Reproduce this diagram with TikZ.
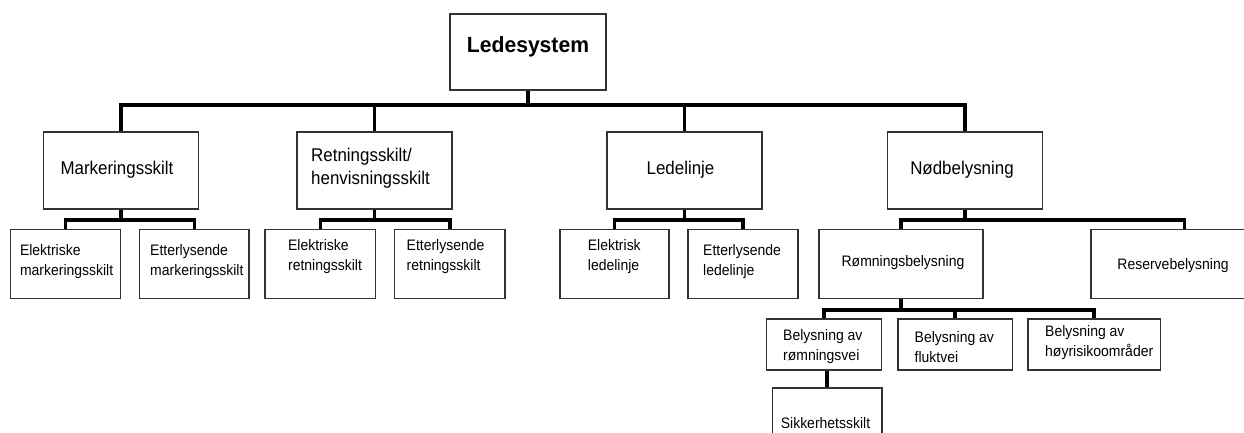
\documentclass[tikz,border=0pt]{standalone}
\usepackage{fontspec}
\setmainfont{Liberation Sans}[FakeStretch=0.92]
\newfontfamily\headfont{Liberation Sans}[FakeStretch=0.96]
\begin{document}
\begin{tikzpicture}[x=1pt,y=-1pt,
  box/.style={draw=black!80,line width=1.4pt,inner sep=0pt,rectangle},
  bus/.style={line width=3.6pt,line cap=butt,line join=miter},
  t0/.style={inner sep=0pt,font=\headfont\fontsize{22}{26}\selectfont\bfseries},
  t1/.style={inner sep=0pt,font=\fontsize{18.4}{23}\selectfont,align=left},
  t2/.style={inner sep=0pt,font=\fontsize{15.2}{20}\selectfont,align=left},
]
\useasboundingbox (0,0) rectangle (1244,432);
\fill[white] (0,0) rectangle (1244,432);

% boxes
\node[box,minimum width=156pt,minimum height=76pt] (top) at (528,52) {};
\node[box,minimum width=155pt,minimum height=77pt] (m1) at (121.25,170.5) {};
\node[box,minimum width=155pt,minimum height=77pt] (m2) at (374.3,170.5) {};
\node[box,minimum width=155pt,minimum height=77pt] (m3) at (684.5,170.5) {};
\node[box,minimum width=155pt,minimum height=77pt] (m4) at (965,170.5) {};

\node[box,minimum width=109.5pt,minimum height=69pt] (e1) at (65.45,263.8) {};
\node[box,minimum width=109.4pt,minimum height=69pt] (e2) at (194.3,263.8) {};
\node[box,minimum width=110.6pt,minimum height=69pt] (e3) at (320.3,263.8) {};
\node[box,minimum width=110.4pt,minimum height=69pt] (e4) at (449.8,263.8) {};
\node[box,minimum width=109pt,minimum height=69pt] (e5) at (614.5,263.8) {};
\node[box,minimum width=110pt,minimum height=69pt] (e6) at (743,263.8) {};
\node[box,minimum width=164pt,minimum height=69pt] (r1) at (901,263.8) {};
\node[box,minimum width=187pt,minimum height=69pt] (r2) at (1184.3,263.8) {};

\node[box,minimum width=115pt,minimum height=51pt] (b1) at (823.9,344.5) {};
\node[box,minimum width=114.6pt,minimum height=51pt] (b2) at (955.1,344.5) {};
\node[box,minimum width=132.5pt,minimum height=51pt] (b3) at (1094.15,344.5) {};
\node[box,minimum width=109.4pt,minimum height=70pt] (s1) at (827.1,423) {};

% bus levels
\coordinate (y1) at (0,105);
\coordinate (y2) at (0,220);
\coordinate (y3) at (0,310);

% connectors
\draw[bus] (top.south) -- (top.south |- y1);
\draw[bus] (m1.north) |- (top.south |- y1) -| (m4.north);
\draw[bus] (m2.north) -- (m2.north |- y1);
\draw[bus] (m3.north) -- (m3.north |- y1);

\draw[bus] (m1.south) -- (m1.south |- y2);
\draw[bus] (e1.north) |- (m1.south |- y2) -| (e2.north);
\draw[bus] (m2.south) -- (m2.south |- y2);
\draw[bus] (e3.north) |- (m2.south |- y2) -| (e4.north);
\draw[bus] (m3.south) -- (m3.south |- y2);
\draw[bus] (e5.north) |- (m3.south |- y2) -| (e6.north);
\draw[bus] (m4.south) -- (m4.south |- y2);
\draw[bus] (r1.north) |- (m4.south |- y2) -| (r2.north);

\draw[bus] (r1.south) -- (r1.south |- y3);
\draw[bus] (b1.north) |- (r1.south |- y3) -| (b3.north);
\draw[bus] (b2.north) -- (b2.north |- y3);

\draw[bus] (s1.north) -- (s1.north |- b1.south);

% texts
\node[t0] (ttop) at (528,47) {Ledesystem};
\node[t1] (tm1) at (117,170) {Markeringsskilt};
\node[t1,anchor=west] (tm2) at (311,168.5) {Retningsskilt/\\henvisningsskilt};
\node[t1] (tm3) at (680.5,170) {Ledelinje};
\node[t1] (tm4) at (962,170) {Nødbelysning};

\node[t2,anchor=west] (te1) at (19.8,262) {Elektriske\\markeringsskilt};
\node[t2,anchor=west] (te2) at (150,262) {Etterlysende\\markeringsskilt};
\node[t2,anchor=west] (te3) at (287.9,257) {Elektriske\\retningsskilt};
\node[t2,anchor=west] (te4) at (406.5,257) {Etterlysende\\retningsskilt};
\node[t2,anchor=west] (te5) at (587.7,256.7) {Elektrisk\\ledelinje};
\node[t2,anchor=west] (te6) at (703,261.7) {Etterlysende\\ledelinje};
\node[t2] (tr1) at (903,263) {Rømningsbelysning};
\node[t2] (tr2) at (1173,265.7) {Reservebelysning};

\node[t2,anchor=west] (tb1) at (783,347) {Belysning av\\rømningsvei};
\node[t2,anchor=west] (tb2) at (914.5,347.5) {Belysning av\\fluktvei};
\node[t2,anchor=west] (tb3) at (1045,343) {Belysning av\\høyrisikoområder};
\node[t2] (ts1) at (825.5,423) {Sikkerhetsskilt};
\end{tikzpicture}
\end{document}
